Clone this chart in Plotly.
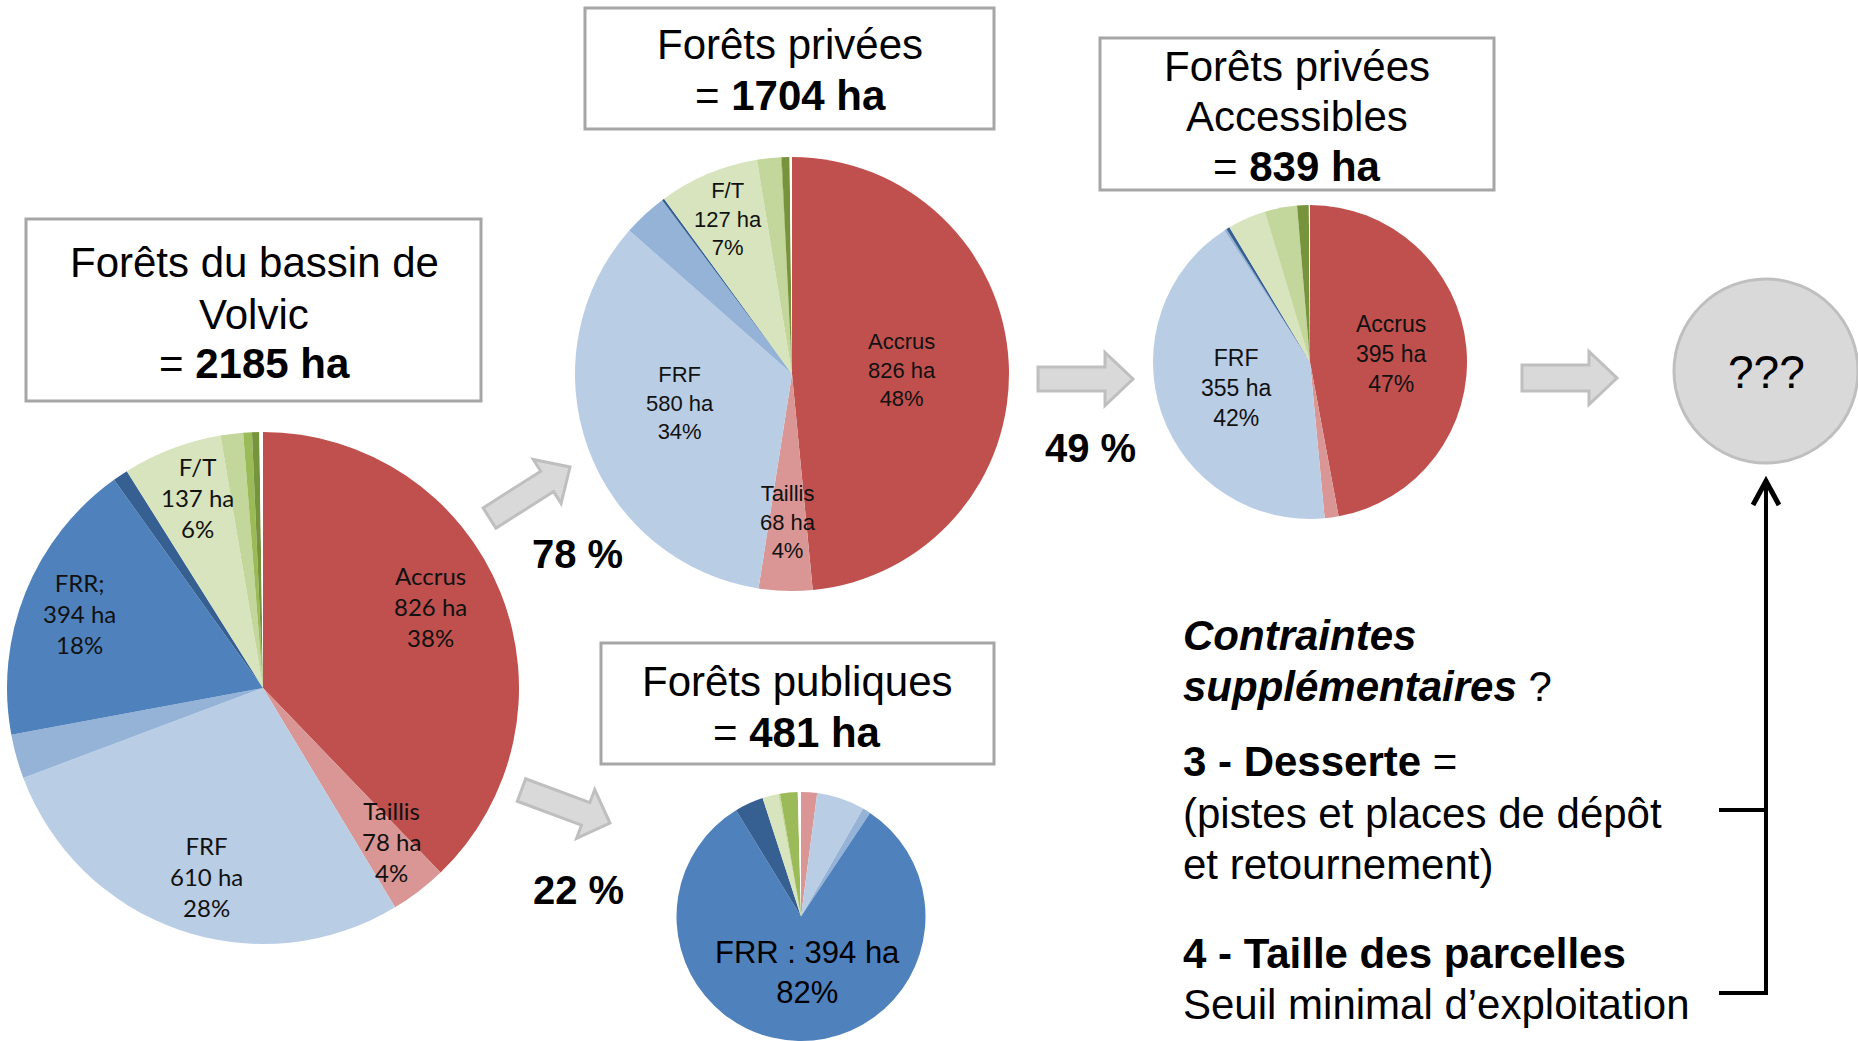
import plotly.graph_objects as go

W, H = 1858, 1041

# ---------------- data ----------------
categories = ["Accrus", "Taillis", "FRF", "FRF (autre)", "FRR", "FRR (autre)",
              "F/T", "F/T (autre)", "Feuillus (autre)", "Résineux", "Non classé"]
colors = ["#C0504D", "#D99694", "#B9CDE5", "#95B3D7", "#4F81BD", "#376092",
          "#D7E4BD", "#C3D69B", "#9BBB59", "#77933C", "#FFFFFF"]

total_ha = [826, 78, 610, 61, 394, 21, 137, 31, 12, 10, 5]       # bassin de Volvic
private_ha = [826, 68, 580, 56, 0, 3, 127, 30, 1, 10, 3]         # forêts privées
public_ha = [0, 10, 30, 5, 394, 18, 10, 1, 11, 0, 2]             # forêts publiques
accessible_ha = [395, 12, 355, 2, 0, 3, 33, 28, 0, 10, 1]        # privées accessibles

total_labels = ["Accrus", "Taillis", "FRF", "FRR;", "F/T"]
private_labels = ["Accrus", "FRF", "Taillis", "F/T"]
accessible_labels = ["Accrus", "FRF"]

flow_pct = {"private": 78, "public": 22, "accessible": 49}

# ---------------- helpers ----------------
def px(x):
    return x / W


def py(y):
    return 1 - y / H


def dom(cx, cy, r):
    return dict(x=[px(cx - r), px(cx + r)], y=[py(cy + r), py(cy - r)])


def pie(values, cx, cy, r):
    return go.Pie(values=values, labels=categories, sort=False, direction="clockwise",
                  rotation=0, textinfo="none", hoverinfo="label+value", showlegend=False,
                  marker=dict(colors=colors, line=dict(color="white", width=0)),
                  domain=dom(cx, cy, r))


ARIAL = "Liberation Sans, Arial, sans-serif"
CALIBRI = "Lato, Carlito, Calibri, sans-serif"

annotations = []


def ann(x, y, text, size, family=ARIAL, xanchor="center", color="#000000"):
    annotations.append(dict(x=px(x), y=py(y), xref="paper", yref="paper", text=text,
                            showarrow=False, xanchor=xanchor, yanchor="middle",
                            align="center" if xanchor == "center" else "left",
                            font=dict(size=size, family=family, color=color)))


def val(values, name):
    return values[categories.index(name)]


def pie_label(values, name, shown, size, family, x, y):
    v = val(values, name)
    pct = round(100 * v / sum(values))
    ann(x, y, f"{shown}<br>{v} ha<br>{pct}%", size, family, color="#111111")


fig = go.Figure()

# ---------------- pies ----------------
fig.add_trace(pie(total_ha, 263, 688, 256))
fig.add_trace(pie(private_ha, 792, 374, 217))
fig.add_trace(pie(accessible_ha, 1310, 362, 157))
fig.add_trace(pie(public_ha, 801, H - 124.5, 124.5))

# big pie labels (Calibri-like)
big_pos = {"Accrus": (430, 606), "Taillis": (391, 841), "FRF": (206, 876),
           "FRR": (79, 613), "F/T": (197, 498)}
for shown in total_labels:
    name = shown.rstrip(";")
    x, y = big_pos[name]
    pie_label(total_ha, name, shown, 24, CALIBRI, x, y)

priv_pos = {"Accrus": (902, 370), "FRF": (680, 403), "Taillis": (788, 522), "F/T": (728, 219)}
for name in private_labels:
    x, y = priv_pos[name]
    pie_label(private_ha, name, name, 22, ARIAL, x, y)

acc_pos = {"Accrus": (1391, 354), "FRF": (1236, 388)}
for name in accessible_labels:
    x, y = acc_pos[name]
    pie_label(accessible_ha, name, name, 23, ARIAL, x, y)

frr_pub = val(public_ha, "FRR")
ann(807, 972, f"FRR : {frr_pub} ha<br>{round(100 * frr_pub / sum(public_ha))}%", 31)

# ---------------- title boxes ----------------
shapes = []


def box(x0, y0, x1, y1):
    shapes.append(dict(type="rect", xref="paper", yref="paper", x0=px(x0), x1=px(x1),
                       y0=py(y1), y1=py(y0), fillcolor="white",
                       line=dict(color="#A6A6A6", width=3), layer="above"))


box(26, 219, 481, 401)
ann(254, 262, "Forêts du bassin de", 42)
ann(254, 314, "Volvic", 42)
ann(254, 363, f"= <b>{sum(total_ha)} ha</b>", 42)

box(585, 8, 994, 129)
ann(790, 45, "Forêts privées", 42)
ann(790, 96, f"= <b>{sum(private_ha)} ha</b>", 42)

box(1100, 38, 1494, 190)
ann(1297, 66, "Forêts privées", 42)
ann(1297, 116, "Accessibles", 42)
ann(1297, 166, f"= <b>{sum(accessible_ha)} ha</b>", 42)

box(601, 643, 994, 764)
ann(797, 681, "Forêts publiques", 42)
ann(797, 732, f"= <b>{sum(public_ha)} ha</b>", 42)

# ---------------- block arrows ----------------
def block_arrow(tx, ty, hx, hy, sw, hw, hl):
    dx, dy = hx - tx, hy - ty
    L = (dx * dx + dy * dy) ** 0.5
    ux, uy = dx / L, dy / L
    nx, ny = -uy, ux
    bx, by = hx - ux * hl, hy - uy * hl
    pts = [(tx + nx * sw / 2, ty + ny * sw / 2), (bx + nx * sw / 2, by + ny * sw / 2),
           (bx + nx * hw / 2, by + ny * hw / 2), (hx, hy),
           (bx - nx * hw / 2, by - ny * hw / 2), (bx - nx * sw / 2, by - ny * sw / 2),
           (tx - nx * sw / 2, ty - ny * sw / 2)]
    path = "M " + " L ".join(f"{px(x):.5f},{py(y):.5f}" for x, y in pts) + " Z"
    shapes.append(dict(type="path", xref="paper", yref="paper", path=path,
                       fillcolor="#D9D9D9", line=dict(color="#BFBFBF", width=3)))


block_arrow(489.5, 518, 570, 467, 24, 52, 27)
block_arrow(521.5, 790, 610, 823, 24, 52, 26)
block_arrow(1038, 379, 1133, 379, 24, 53, 28)
block_arrow(1522, 378, 1617, 378, 26, 53, 28)

ann(577, 554, f"<b>{flow_pct['private']} %</b>", 40)
ann(578, 890, f"<b>{flow_pct['public']} %</b>", 40)
ann(1090, 448, f"<b>{flow_pct['accessible']} %</b>", 40)

# ---------------- ??? circle ----------------
shapes.append(dict(type="circle", xref="paper", yref="paper", x0=px(1674), x1=px(1858),
                   y0=py(463), y1=py(279), fillcolor="#D9D9D9",
                   line=dict(color="#BFBFBF", width=3)))
ann(1766, 372, "???", 46)

# ---------------- bracket arrow ----------------
def pth(points):
    return " ".join(("M " if i == 0 else "L ") + f"{px(x):.5f},{py(y):.5f}"
                    for i, (x, y) in enumerate(points))


shapes.append(dict(type="path", xref="paper", yref="paper",
                   path=pth([(1719, 993), (1766, 993), (1766, 482)]) + " " + pth([(1719, 810), (1766, 810)]),
                   line=dict(color="black", width=4)))
shapes.append(dict(type="path", xref="paper", yref="paper",
                   path=pth([(1753, 505), (1766, 481), (1779, 505)]),
                   line=dict(color="black", width=5)))

# ---------------- right text block ----------------
right_lines = [
    ("<b><i>Contraintes</i></b>", 635),
    ("<b><i>supplémentaires</i></b> ?", 686),
    ("<b>3 - Desserte</b> =", 761),
    ("(pistes et places de dépôt", 813),
    ("et retournement)", 864),
    ("<b>4 - Taille des parcelles</b>", 953),
    ("Seuil minimal d’exploitation", 1004),
]
for txt, y in right_lines:
    ann(1181, y, txt, 42, xanchor="left")

fig.update_layout(width=W, height=H, margin=dict(l=0, r=0, t=0, b=0),
                  paper_bgcolor="white", plot_bgcolor="white",
                  shapes=shapes, annotations=annotations, showlegend=False)

fig.write_html("out.html", config={"displayModeBar": False},
               post_script="document.body.style.margin='0px';document.body.style.padding='0px';")
